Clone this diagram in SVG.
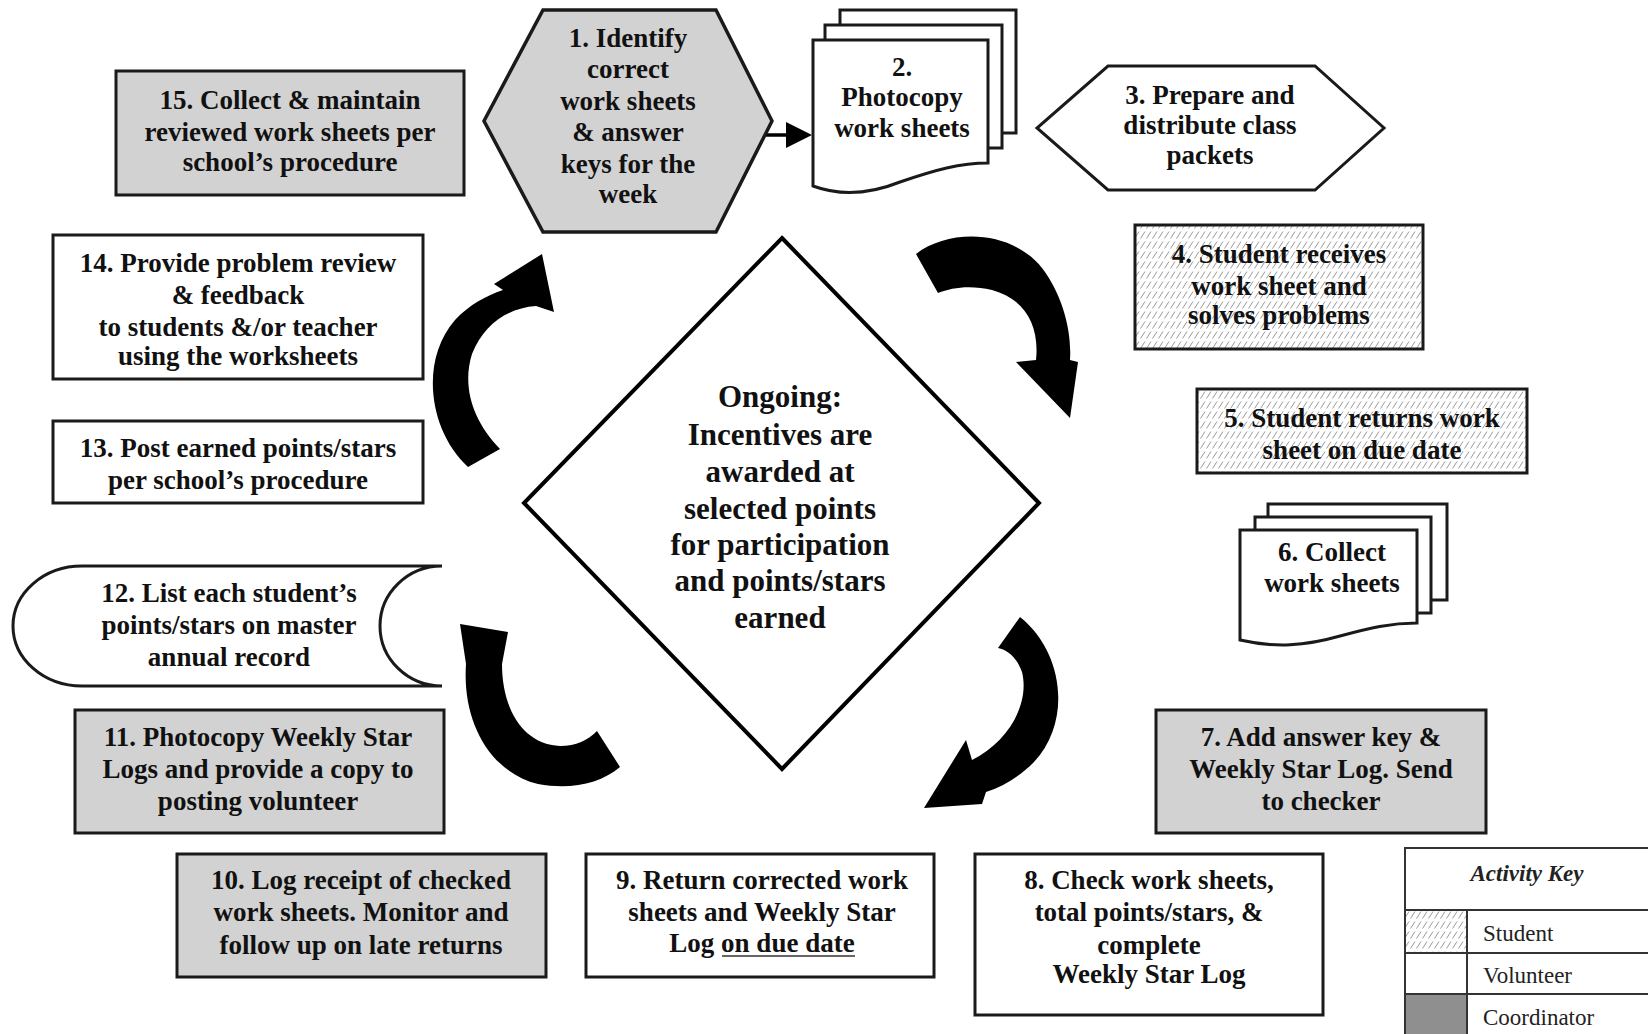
<svg xmlns="http://www.w3.org/2000/svg" width="1648" height="1034" viewBox="0 0 1648 1034">
<defs>
<pattern id="hatch" width="6" height="10" patternUnits="userSpaceOnUse">
<rect width="6" height="10" fill="#fff"/>
<path d="M0.5,8.5 L5,1.5" stroke="#8c8c8c" stroke-width="0.9"/>
</pattern>
<style>
.t{font-family:"Liberation Serif","Times New Roman",serif;font-weight:bold;font-size:27px;fill:#111;text-anchor:middle}
.d{font-family:"Liberation Serif","Times New Roman",serif;font-weight:bold;font-size:31px;fill:#111;text-anchor:middle}
.k{font-family:"Liberation Serif","Times New Roman",serif;font-size:23px;fill:#222}
.ki{font-family:"Liberation Serif","Times New Roman",serif;font-size:23px;font-weight:bold;font-style:italic;fill:#222;text-anchor:middle}
.g{fill:#d2d2d2;stroke:#1a1a1a;stroke-width:3}
.w{fill:#fff;stroke:#1a1a1a;stroke-width:3}
.h{fill:url(#hatch);stroke:#1a1a1a;stroke-width:3}
.ar{fill:#000;stroke:none}
.lg{fill:none;stroke:#333;stroke-width:2}
</style>
</defs>
<rect width="1648" height="1034" fill="#fff"/>

<g id="connectors">
<path class="ar" d="M468,467 C428,430 420,360 455,320 C470,304 486,296 503,290 L494,284 L542,254 L554,312 L536,306 C508,308 484,324 472,354 C462,386 472,420 500,449 Z"/>
<path class="ar" d="M916,254 C950,228 1012,230 1042,268 C1062,294 1072,330 1070,360 L1078,362 L1070,418 L1016,362 L1036,360 C1040,322 1022,298 992,290 C972,285 952,287 938,293 Z"/>
<path class="ar" d="M1020,617 C1064,652 1072,722 1034,762 C1020,776 1004,786 986,792 L982,804 L924,808 L966,740 L972,760 C1008,742 1030,704 1022,672 C1017,658 1008,650 998,648 Z"/>
<path class="ar" d="M460,624 L508,632 L502,664 C502,708 522,744 560,746 C576,746 588,740 597,731 L620,767 C600,784 570,790 538,784 C490,772 462,722 466,664 Z"/>
<line x1="710" y1="135" x2="790" y2="135" stroke="#000" stroke-width="3.5"/>
<polygon points="786,122 812,135 786,148" fill="#000"/>
</g>

<g id="n15">
<rect class="g" x="116" y="71" width="348" height="124"/>
<text class="t" x="290" y="109">15. Collect &amp; maintain</text>
<text class="t" x="290" y="141">reviewed work sheets per</text>
<text class="t" x="290" y="171">school’s procedure</text>
</g>

<g id="n1">
<polygon class="g" points="543,10 716,10 772,121 716,232 543,232 484,121" style="stroke-width:3.5"/>
<text class="t" x="628" y="47">1. Identify</text>
<text class="t" x="628" y="78">correct</text>
<text class="t" x="628" y="110">work sheets</text>
<text class="t" x="628" y="141">&amp; answer</text>
<text class="t" x="628" y="173">keys for the</text>
<text class="t" x="628" y="203">week</text>
</g>

<g id="n2">
<rect class="w" x="840" y="10" width="176" height="123"/>
<rect class="w" x="825" y="25" width="177" height="123"/>
<path class="w" d="M813,40 H988 V163 C960,163 935,170 900,182 C870,194 840,196 813,186 Z"/>
<text class="t" x="902" y="76">2.</text>
<text class="t" x="902" y="106">Photocopy</text>
<text class="t" x="902" y="137">work sheets</text>
</g>

<g id="n3">
<polygon class="w" points="1108,66 1315,66 1384,128 1315,190 1108,190 1037,128"/>
<text class="t" x="1210" y="104">3. Prepare and</text>
<text class="t" x="1210" y="134">distribute class</text>
<text class="t" x="1210" y="164">packets</text>
</g>

<g id="n4">
<rect class="h" x="1135" y="225" width="288" height="124"/>
<text class="t" x="1279" y="263">4. Student receives</text>
<text class="t" x="1279" y="295">work sheet and</text>
<text class="t" x="1279" y="324">solves problems</text>
</g>

<g id="n5">
<rect class="h" x="1197" y="389" width="330" height="84"/>
<text class="t" x="1362" y="427">5. Student returns work</text>
<text class="t" x="1362" y="459">sheet on due date</text>
</g>

<g id="n6">
<rect class="w" x="1268" y="504" width="179" height="96"/>
<rect class="w" x="1255" y="517" width="176" height="96"/>
<path class="w" d="M1240,530 H1417 V623 C1390,623 1370,628 1340,636 C1305,646 1275,648 1240,640 Z"/>
<text class="t" x="1332" y="561">6. Collect</text>
<text class="t" x="1332" y="592">work sheets</text>
</g>

<g id="n7">
<rect class="g" x="1156" y="710" width="330" height="123"/>
<text class="t" x="1321" y="746">7. Add answer key &amp;</text>
<text class="t" x="1321" y="778">Weekly Star Log. Send</text>
<text class="t" x="1321" y="810">to checker</text>
</g>

<g id="n8">
<rect class="w" x="975" y="854" width="348" height="161"/>
<text class="t" x="1149" y="889">8. Check work sheets,</text>
<text class="t" x="1149" y="921">total points/stars, &amp;</text>
<text class="t" x="1149" y="954">complete</text>
<text class="t" x="1149" y="983">Weekly Star Log</text>
</g>

<g id="n9">
<rect class="w" x="586" y="854" width="348" height="123"/>
<text class="t" x="762" y="889">9. Return corrected work</text>
<text class="t" x="762" y="921">sheets and Weekly Star</text>
<text class="t" x="762" y="952">Log on due date</text>
<line x1="722" y1="956" x2="855" y2="956" stroke="#333" stroke-width="1.5"/>
</g>

<g id="n10">
<rect class="g" x="177" y="854" width="369" height="123"/>
<text class="t" x="361" y="889">10. Log receipt of checked</text>
<text class="t" x="361" y="921">work sheets. Monitor and</text>
<text class="t" x="361" y="954">follow up on late returns</text>
</g>

<g id="n11">
<rect class="g" x="75" y="710" width="369" height="123"/>
<text class="t" x="258" y="746">11. Photocopy Weekly Star</text>
<text class="t" x="258" y="778">Logs and provide a copy to</text>
<text class="t" x="258" y="810">posting volunteer</text>
</g>

<g id="n12">
<path class="w" d="M82,566 H442 A62,60 0 0 0 442,686 H82 A69,60 0 0 1 82,566 Z"/>
<text class="t" x="229" y="602">12. List each student’s</text>
<text class="t" x="229" y="634">points/stars on master</text>
<text class="t" x="229" y="666">annual record</text>
</g>

<g id="n13">
<rect class="w" x="53" y="421" width="370" height="82"/>
<text class="t" x="238" y="457">13. Post earned points/stars</text>
<text class="t" x="238" y="489">per school’s procedure</text>
</g>

<g id="n14">
<rect class="w" x="53" y="235" width="370" height="144"/>
<text class="t" x="238" y="272">14. Provide problem review</text>
<text class="t" x="238" y="304">&amp; feedback</text>
<text class="t" x="238" y="336">to students &amp;/or teacher</text>
<text class="t" x="238" y="365">using the worksheets</text>
</g>

<g id="center">
<polygon points="782,238 1039,503 782,769 524,503" fill="#fff" stroke="#000" stroke-width="4"/>
<text class="d" x="780" y="407">Ongoing:</text>
<text class="d" x="780" y="445">Incentives are</text>
<text class="d" x="780" y="482">awarded at</text>
<text class="d" x="780" y="519">selected points</text>
<text class="d" x="780" y="555">for participation</text>
<text class="d" x="780" y="591">and points/stars</text>
<text class="d" x="780" y="628">earned</text>
</g>

<g id="legend">
<rect x="1405" y="910" width="62" height="43" fill="url(#hatch)"/>
<rect x="1405" y="994" width="62" height="42" fill="#8f8f8f"/>
<path class="lg" d="M1405,1036 V848 H1650 M1405,910 H1650 M1405,953 H1650 M1405,994 H1650 M1467,910 V1036"/>
<text class="ki" x="1527" y="881">Activity Key</text>
<text class="k" x="1483" y="941">Student</text>
<text class="k" x="1483" y="983">Volunteer</text>
<text class="k" x="1483" y="1025">Coordinator</text>
</g>
</svg>
